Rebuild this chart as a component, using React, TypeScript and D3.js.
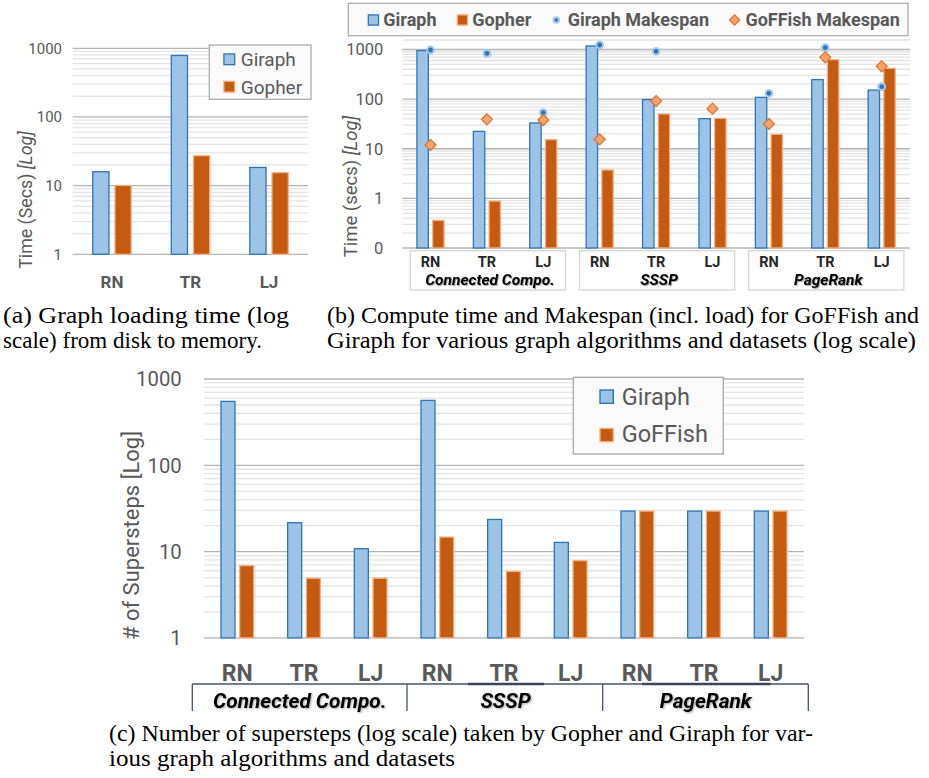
import React from 'react';
import * as d3 from 'd3';

// ---------- data ----------
const datasets = ['RN', 'TR', 'LJ'];
const loadGiraph = [16.3, 804, 18.8];
const loadGopher = [10.3, 27.9, 15.8];

const algorithms = ['Connected Compo.', 'SSSP', 'PageRank'];
const computeGiraph = [977, 23.1, 34.1, 1214, 101, 41.7, 112, 255, 157];
const computeGopher = [0.37, 0.91, 15.7, 3.85, 51.8, 42.3, 20.1, 644, 430];
const makespanGiraph: (number | null)[] = [977, 838, 53.3, 1233, 919, null, 131, 1088, 178];
const makespanGoffish = [11.9, 39.2, 37.9, 15.5, 91.6, 64.2, 31.5, 695, 458];

const stepsGiraph = [560, 22, 11, 575, 24, 13, 30, 30, 30];
const stepsGoffish = [7, 5, 5, 15, 6, 8, 30, 30, 30];

const ticksA = [1, 10, 100, 1000];
const ticksB = [0.1, 1, 10, 100, 1000];
const tickLabelsB = ['0', '1', '10', '100', '1000'];
const ticksC = [1, 10, 100, 1000];

const captionA = ['(a) Graph loading time (log', 'scale) from disk to memory.'];
const captionB = ['(b) Compute time and Makespan (incl. load) for GoFFish and', 'Giraph for various graph algorithms and datasets (log scale)'];
const captionC = ['(c) Number of supersteps (log scale) taken by Gopher and Giraph for var-', 'ious graph algorithms and datasets'];

// ---------- style ----------
const FONT = "Roboto, 'Open Sans', Arial, sans-serif";
const SERIF = "'Liberation Serif', 'Times New Roman', serif";
const GRAY = '#595959';
const BLUE_FILL = '#9dc3e6';
const BLUE_STROKE = '#2e75b6';
const OR_FILL = '#c55a11';
const OR_STROKE = '#f4b183';
const MAJOR = '#b4b4b4';
const MINOR = '#e4e4e4';

const keys = algorithms.flatMap((a) => datasets.map((d) => a + '|' + d));

function isMajor(v: number) {
  const l = Math.log10(v);
  return Math.abs(l - Math.round(l)) < 1e-9;
}

function Grid({ y, x0, x1, top }: any) {
  const t: number[] = y.ticks().filter((v: number) => y(v) >= top - 0.5);
  return (
    <g>
      {t.filter((v) => !isMajor(v)).map((v, i) => (
        <line key={'m' + i} x1={x0} x2={x1} y1={y(v)} y2={y(v)} stroke={MINOR} strokeWidth={1.3} />
      ))}
      {t.filter((v) => isMajor(v)).map((v, i) => (
        <line key={'M' + i} x1={x0} x2={x1} y1={y(v)} y2={y(v)} stroke={MAJOR} strokeWidth={1.3} />
      ))}
    </g>
  );
}

function Bars({ cats, x, y, vals, base, side, w, gap, fill, stroke }: any) {
  const sw = 1.3;
  return (
    <g>
      {vals.map((v: number, i: number) => {
        const c = x(cats[i]) + x.bandwidth() / 2;
        const x0 = side < 0 ? c - gap - w : c + gap;
        const yt = y(v);
        const yb = y(base);
        return (
          <rect key={i} x={x0 + sw / 2} y={yt + sw / 2} width={w - sw} height={Math.max(0, yb - yt - sw / 2)}
            fill={fill} stroke={stroke} strokeWidth={sw} />
        );
      })}
    </g>
  );
}

function Dot({ cx, cy, r }: any) {
  return <circle cx={cx} cy={cy} r={r} fill={BLUE_STROKE} stroke="#a9c9ea" strokeWidth={2} />;
}
function Diamond({ cx, cy, s }: any) {
  return (
    <path d={`M${cx},${cy - s}L${cx + s},${cy}L${cx},${cy + s}L${cx - s},${cy}Z`} fill="#f4a46e" stroke="#e0702e" strokeWidth={1.2} />
  );
}

function Caption({ x, y, lines, widths }: any) {
  return (
    <g fontFamily={SERIF} fontSize={23.5} fill="#000">
      {lines.map((l: string, i: number) => (
        <text key={i} x={x} y={y + i * 25} textLength={widths[i]} lengthAdjust="spacingAndGlyphs">{l}</text>
      ))}
    </g>
  );
}

// ---------- chart A ----------
function ChartA() {
  const x = d3.scaleBand<string>().domain(datasets).range([72.7, 308.3]);
  const y = d3.scaleLog().domain([1, 1000]).range([254.3, 48.3]);
  return (
    <g fontFamily={FONT}>
      <Grid y={y} x0={72.7} x1={308.3} top={48.3} />
      <Bars cats={datasets} x={x} y={y} vals={loadGiraph} base={1} side={-1} w={17.5} gap={2.35} fill={BLUE_FILL} stroke={BLUE_STROKE} />
      <Bars cats={datasets} x={x} y={y} vals={loadGopher} base={1} side={1} w={17.5} gap={2.35} fill={OR_FILL} stroke={OR_STROKE} />
      {ticksA.map((t) => (
        <text key={t} x={62} y={y(t) + 5.4} textAnchor="end" fontSize={15} fill={GRAY}>{t}</text>
      ))}
      {datasets.map((d) => (
        <text key={d} x={(x(d) as number) + x.bandwidth() / 2} y={287.8} textAnchor="middle" fontSize={17} fontWeight="bold" fill={GRAY}>{d}</text>
      ))}
      <text transform="translate(32,200) rotate(-90)" textAnchor="middle" fontSize={17.8} fill={GRAY}>
        {'Time (Secs) '}<tspan fontStyle="italic">[Log]</tspan>
      </text>
      <rect x={209.3} y={45} width={101.7} height={54.3} fill="#fafafa" stroke="#a6a6a6" strokeWidth={1.2} />
      <rect x={223.9} y={53.9} width={10.8} height={10.8} fill={BLUE_FILL} stroke={BLUE_STROKE} strokeWidth={1.3} />
      <rect x={223.9} y={81.3} width={10.8} height={10.8} fill={OR_FILL} stroke={OR_STROKE} strokeWidth={1.3} />
      <text x={240.7} y={66.1} fontSize={19} fill={GRAY}>Giraph</text>
      <text x={240.7} y={93.5} fontSize={19} fill={GRAY}>Gopher</text>
    </g>
  );
}

// ---------- chart B ----------
function ChartB() {
  const x = d3.scaleBand<string>().domain(keys).range([402.3, 909.9]);
  const y = d3.scaleLog().domain([0.1, 1000]).range([248, 49.5]);
  const cx = (k: string) => (x(k) as number) + x.bandwidth() / 2;
  return (
    <g fontFamily={FONT}>
      <defs>
        <filter id="shB" x="-10%" y="-30%" width="120%" height="160%">
          <feDropShadow dx="1" dy="1" stdDeviation="0.7" floodColor="#000" floodOpacity="0.35" />
        </filter>
      </defs>
      <line x1={402.3} x2={909.9} y1={40} y2={40} stroke={MINOR} strokeWidth={1.3} />
      <Grid y={y} x0={402.3} x1={909.9} top={40} />
      <Bars cats={keys} x={x} y={y} vals={computeGiraph} base={0.1} side={-1} w={12.7} gap={1.5} fill={BLUE_FILL} stroke={BLUE_STROKE} />
      <Bars cats={keys} x={x} y={y} vals={computeGopher} base={0.1} side={1} w={12.7} gap={1.5} fill={OR_FILL} stroke={OR_STROKE} />
      {makespanGiraph.map((v, i) => v == null ? null : <Dot key={'d' + i} cx={cx(keys[i])} cy={y(v)} r={3.4} />)}
      {makespanGoffish.map((v, i) => <Diamond key={'g' + i} cx={cx(keys[i])} cy={y(v)} s={5.5} />)}
      {ticksB.map((t, i) => (
        <text key={t} x={383.3} y={y(t) + 5.9} textAnchor="end" fontSize={16.5} fill={GRAY}>{tickLabelsB[i]}</text>
      ))}
      <text transform="translate(357,186.5) rotate(-90)" textAnchor="middle" fontSize={18.5} fill={GRAY}>
        {'Time (secs) '}<tspan fontStyle="italic">[Log]</tspan>
      </text>
      {algorithms.map((a, g) => {
        const x0 = x(keys[g * 3]) as number;
        const x1 = (x(keys[g * 3 + 2]) as number) + x.bandwidth();
        const bx0 = x0 + 8, bx1 = x1 - 6;
        return (
          <g key={a}>
            <rect x={bx0} y={250.7} width={bx1 - bx0} height={39.3} fill="#fff" stroke="#d6d6d6" strokeWidth={1.3} />
            <text x={(bx0 + bx1) / 2 + 2} y={284.6} textAnchor="middle" fontSize={15.5} fontWeight="bold" fontStyle="italic" fill="#000" filter="url(#shB)">{a}</text>
          </g>
        );
      })}
      {keys.map((k) => (
        <text key={k} x={cx(k)} y={266.6} textAnchor="middle" fontSize={14.5} fontWeight="bold" fill="#262626">{k.split('|')[1]}</text>
      ))}
      <rect x={348.3} y={3.3} width={559.7} height={32.4} fill="#fafafa" stroke="#a6a6a6" strokeWidth={1.2} />
      <rect x={368.3} y={14.9} width={10.2} height={10.2} fill={BLUE_FILL} stroke={BLUE_STROKE} strokeWidth={1.3} />
      <text x={383.3} y={26.4} fontSize={18} fontWeight="bold" fill={GRAY}>Giraph</text>
      <rect x={457.3} y={14.9} width={10.2} height={10.2} fill={OR_FILL} stroke={OR_STROKE} strokeWidth={1.3} />
      <text x={472.3} y={26.4} fontSize={18} fontWeight="bold" fill={GRAY}>Gopher</text>
      <Dot cx={556.3} cy={20} r={2.8} />
      <text x={567.7} y={26.4} fontSize={18} fontWeight="bold" fill={GRAY}>Giraph Makespan</text>
      <Diamond cx={734.6} cy={20} s={5.2} />
      <text x={745.4} y={26.4} fontSize={18} fontWeight="bold" fill={GRAY}>GoFFish Makespan</text>
    </g>
  );
}

// ---------- chart C ----------
function ChartC() {
  const x = d3.scaleBand<string>().domain(keys).range([204, 804]);
  const y = d3.scaleLog().domain([1, 1000]).range([637.9, 379]);
  const cx = (k: string) => (x(k) as number) + x.bandwidth() / 2;
  const groupEdge = (g: number) => x(keys[g * 3]) as number;
  const edges = [groupEdge(0) - 11.7, groupEdge(1) + 3, groupEdge(2) - 1.3, 804 + 4.3];
  const labelX = [299.8, 505.6, 705.7];
  return (
    <g fontFamily={FONT}>
      <defs>
        <filter id="shC" x="-10%" y="-30%" width="120%" height="160%">
          <feDropShadow dx="1" dy="1" stdDeviation="0.8" floodColor="#000" floodOpacity="0.35" />
        </filter>
      </defs>
      <Grid y={y} x0={204} x1={804} top={379} />
      <Bars cats={keys} x={x} y={y} vals={stepsGiraph} base={1} side={-1} w={15.3} gap={1.7} fill={BLUE_FILL} stroke={BLUE_STROKE} />
      <Bars cats={keys} x={x} y={y} vals={stepsGoffish} base={1} side={1} w={15.3} gap={1.7} fill={OR_FILL} stroke={OR_STROKE} />
      {ticksC.map((t) => (
        <text key={t} x={181.7} y={y(t) + 7.3} textAnchor="end" fontSize={20.3} fill={GRAY}>{t}</text>
      ))}
      <text transform="translate(139,535.5) rotate(-90)" textAnchor="middle" fontSize={22} fill={GRAY}># of Supersteps [Log]</text>
      {keys.map((k) => (
        <text key={k} x={cx(k)} y={680.9} textAnchor="middle" fontSize={23} fontWeight="bold" fill={GRAY}>{k.split('|')[1]}</text>
      ))}
      <line x1={edges[0]} x2={edges[3]} y1={684} y2={684} stroke="#44546a" strokeWidth={1.3} />
      {edges.map((e, i) => (
        <line key={i} x1={e} x2={e} y1={684} y2={711} stroke="#44546a" strokeWidth={1.3} />
      ))}
      <line x1={cx(keys[4]) - 36} x2={cx(keys[4]) + 40} y1={684} y2={684} stroke="#3b4658" strokeWidth={2.6} />
      <line x1={cx(keys[7]) - 62} x2={cx(keys[8])} y1={684} y2={684} stroke="#3b4658" strokeWidth={2.6} />
      {algorithms.map((a, g) => (
        <text key={a} x={labelX[g]} y={708.2} textAnchor="middle" fontSize={20.8} fontWeight="bold" fontStyle="italic" fill="#000" filter="url(#shC)">{a}</text>
      ))}
      <rect x={573.3} y={377.3} width={150} height={76.7} fill="#fafafa" stroke="#a6a6a6" strokeWidth={1.3} />
      <rect x={600} y={390} width={13.3} height={13.3} fill={BLUE_FILL} stroke={BLUE_STROKE} strokeWidth={1.4} />
      <rect x={600} y={428.4} width={13.3} height={13.3} fill={OR_FILL} stroke={OR_STROKE} strokeWidth={1.4} />
      <text x={621.7} y={405.1} fontSize={23.5} fill={GRAY}>Giraph</text>
      <text x={621.7} y={442.4} fontSize={23.5} fill={GRAY}>GoFFish</text>
    </g>
  );
}

export default function App() {
  return (
    <svg width={929} height={778} viewBox="0 0 929 778" style={{ position: 'absolute', left: 0, top: 0, background: '#fff' }}>
      <rect x={0} y={0} width={929} height={778} fill="#fff" />
      <ChartA />
      <ChartB />
      <ChartC />
      <Caption x={3} y={323} lines={captionA} widths={[286, 259]} />
      <Caption x={327} y={323} lines={captionB} widths={[592, 589]} />
      <Caption x={109} y={741} lines={captionC} widths={[704, 346]} />
    </svg>
  );
}
